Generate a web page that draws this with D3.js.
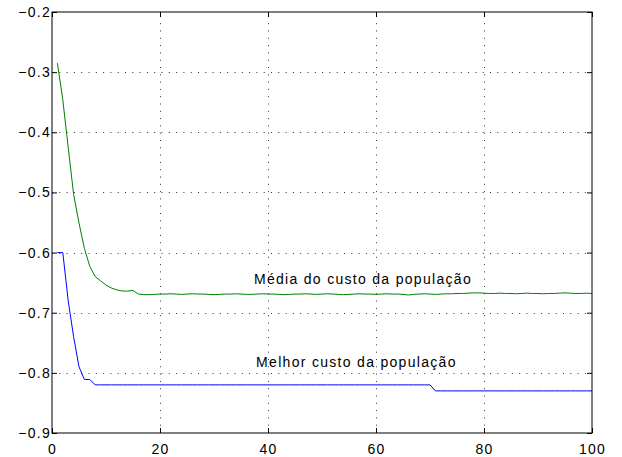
<!DOCTYPE html>
<html>
<head>
<meta charset="utf-8">
<script src="https://cdn.jsdelivr.net/npm/d3@7"></script>
<style>
  html, body { margin: 0; padding: 0; background: #fff; }
  svg { display: block; font-family: "Liberation Sans", Arial, Helvetica, sans-serif; }
</style>
</head>
<body>
<svg id="chart" width="622" height="457"></svg>
<script>
// Generations 1..100 of the genetic algorithm run
const generations = d3.range(1, 101);

// Average population cost per generation
const meanCost = [
  -0.285, -0.346, -0.425, -0.503, -0.551, -0.593, -0.623, -0.640, -0.647, -0.654,
  -0.659, -0.662, -0.664, -0.664, -0.663, -0.669, -0.670, -0.670, -0.6695, -0.669,
  -0.669, -0.6685, -0.669, -0.6695, -0.669, -0.6685, -0.669, -0.669, -0.6695, -0.670,
  -0.6695, -0.669, -0.669, -0.6685, -0.669, -0.6695, -0.6695, -0.669, -0.6685, -0.669,
  -0.669, -0.6695, -0.670, -0.6695, -0.669, -0.669, -0.6685, -0.669, -0.6695, -0.669,
  -0.6685, -0.669, -0.6695, -0.670, -0.6695, -0.669, -0.6685, -0.669, -0.669, -0.6695,
  -0.669, -0.6685, -0.669, -0.669, -0.6695, -0.6705, -0.6695, -0.669, -0.6685, -0.669,
  -0.6695, -0.669, -0.6685, -0.6685, -0.668, -0.668, -0.6675, -0.667, -0.667, -0.6675,
  -0.668, -0.668, -0.6675, -0.668, -0.668, -0.6685, -0.668, -0.6675, -0.668, -0.668,
  -0.6685, -0.668, -0.668, -0.6675, -0.667, -0.6675, -0.668, -0.668, -0.6675, -0.668
];

// Best individual cost per generation
const bestCost = [
  -0.600, -0.600, -0.680, -0.740, -0.790, -0.811, -0.811, -0.820, -0.820, -0.820,
  -0.820, -0.820, -0.820, -0.820, -0.820, -0.820, -0.820, -0.820, -0.820, -0.820,
  -0.820, -0.820, -0.820, -0.820, -0.820, -0.820, -0.820, -0.820, -0.820, -0.820,
  -0.820, -0.820, -0.820, -0.820, -0.820, -0.820, -0.820, -0.820, -0.820, -0.820,
  -0.820, -0.820, -0.820, -0.820, -0.820, -0.820, -0.820, -0.820, -0.820, -0.820,
  -0.820, -0.820, -0.820, -0.820, -0.820, -0.820, -0.820, -0.820, -0.820, -0.820,
  -0.820, -0.820, -0.820, -0.820, -0.820, -0.820, -0.820, -0.820, -0.820, -0.820,
  -0.830, -0.830, -0.830, -0.830, -0.830, -0.830, -0.830, -0.830, -0.830, -0.830,
  -0.830, -0.830, -0.830, -0.830, -0.830, -0.830, -0.830, -0.830, -0.830, -0.830,
  -0.830, -0.830, -0.830, -0.830, -0.830, -0.830, -0.830, -0.830, -0.830, -0.830
];

const xTicks = [0, 20, 40, 60, 80, 100];
const yTicks = [-0.9, -0.8, -0.7, -0.6, -0.5, -0.4, -0.3, -0.2];

const seriesLabels = [
  { text: "Média do custo da população", x: 37.4, y: -0.6515 },
  { text: "Melhor custo da população", x: 37.8, y: -0.7905 }
];

const margin = { left: 52, right: 30, top: 12, bottom: 24 };
const W = 622, H = 457;
const FONT = 14, SPACING = "1.3px";

const x = d3.scaleLinear().domain([0, 100]).range([margin.left, W - margin.right]);
const y = d3.scaleLinear().domain([-0.9, -0.2]).range([H - margin.bottom, margin.top]);

const svg = d3.select("#chart");
const [x0, x1] = x.range();
const [y0, y1] = y.range();

// Dotted grid
const grid = svg.append("g")
  .attr("stroke", "#333")
  .attr("stroke-width", 1)
  .attr("stroke-dasharray", "1,6.3");
grid.selectAll("line.gx").data(xTicks.slice(1, -1)).join("line")
  .attr("x1", d => Math.round(x(d)) + 0.5).attr("x2", d => Math.round(x(d)) + 0.5)
  .attr("y1", y0).attr("y2", y1);
grid.selectAll("line.gy").data(yTicks.slice(1, -1)).join("line")
  .attr("y1", d => Math.round(y(d)) + 0.5).attr("y2", d => Math.round(y(d)) + 0.5)
  .attr("x1", x0).attr("x2", x1);

// Series lines
const line = (vals) => d3.line()
  .x((d, i) => x(generations[i]))
  .y(d => y(d))(vals);

svg.append("path").attr("d", line(meanCost))
  .attr("fill", "none").attr("stroke", "#008000").attr("stroke-width", 1);
svg.append("path").attr("d", line(bestCost))
  .attr("fill", "none").attr("stroke", "#0000ff").attr("stroke-width", 1);

// Axes with inward ticks on all four sides
const tickLen = 5;
const fmt = d => (d < 0 ? "\u2212" : "") + Math.abs(d).toString();

const xAxisB = d3.axisBottom(x).tickValues(xTicks).tickSizeInner(-tickLen).tickSizeOuter(0).tickPadding(11).tickFormat(d3.format("d"));
const xAxisT = d3.axisTop(x).tickValues(xTicks).tickSizeInner(-tickLen).tickSizeOuter(0).tickFormat("");
const yAxisL = d3.axisLeft(y).tickValues(yTicks).tickSizeInner(-tickLen).tickSizeOuter(0).tickPadding(1).tickFormat(fmt);
const yAxisR = d3.axisRight(y).tickValues(yTicks).tickSizeInner(-tickLen).tickSizeOuter(0).tickFormat("");

function styleAxis(g) {
  g.select(".domain").remove();
  g.selectAll(".tick line").attr("stroke", "#000");
  g.selectAll(".tick text").attr("fill", "#000").attr("font-size", FONT)
    .attr("letter-spacing", SPACING)
    .attr("font-family", "'Liberation Sans', Arial, Helvetica, sans-serif");
}

svg.append("g").attr("transform", `translate(0,${y0})`).call(xAxisB).call(styleAxis);
svg.append("g").attr("transform", `translate(0,${y1})`).call(xAxisT).call(styleAxis);
svg.append("g").attr("transform", `translate(${x0},0)`).call(yAxisL).call(styleAxis);
svg.append("g").attr("transform", `translate(${x1},0)`).call(yAxisR).call(styleAxis);

// Axes box
svg.append("rect")
  .attr("x", x0).attr("y", y1)
  .attr("width", x1 - x0).attr("height", y0 - y1)
  .attr("fill", "none").attr("stroke", "#000").attr("stroke-width", 1);

// Series annotations
svg.selectAll("text.lbl").data(seriesLabels).join("text")
  .attr("class", "lbl")
  .attr("x", d => x(d.x)).attr("y", d => y(d.y))
  .attr("font-size", FONT).attr("letter-spacing", SPACING).attr("fill", "#000")
  .text(d => d.text);
</script>
</body>
</html>
